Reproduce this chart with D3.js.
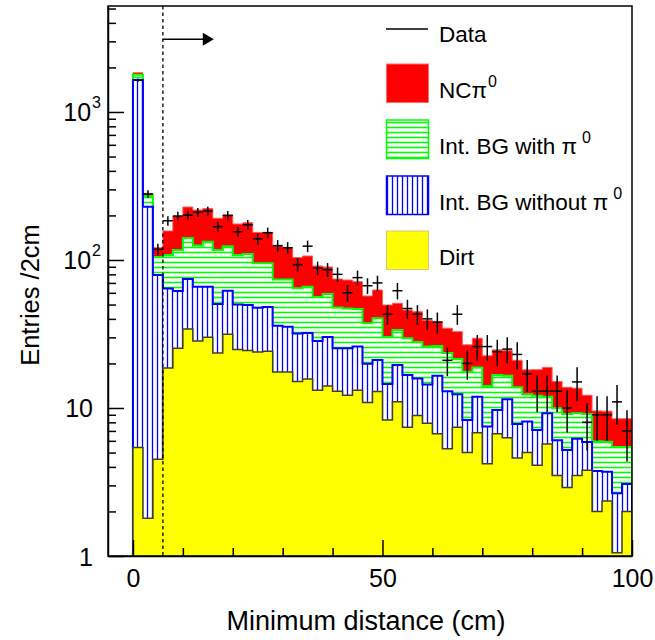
<!DOCTYPE html>
<html><head><meta charset="utf-8">
<script src="https://cdn.jsdelivr.net/npm/d3@7"></script>
<style>body{margin:0;background:#fff} svg{display:block;font-family:"Liberation Sans",Arial,Helvetica,sans-serif}</style>
</head><body><svg id="c" width="655" height="640"></svg>
<script>
// ---- data (Entries / 2cm, bins of 2 cm from 0 to 100) ----
const binLow = [0,2,4,6,8,10,12,14,16,18,20,22,24,26,28,30,32,34,36,38,40,42,44,46,48,50,52,54,56,58,60,62,64,66,68,70,72,74,76,78,80,82,84,86,88,90,92,94,96,98];
const binWidth = 2;
const dirt = [5.4,1.8,4.5,18.6,25.3,34.2,28.4,30.0,23.5,31.5,24.8,24.5,23.9,24.2,17.5,17.5,15.1,15.7,13.2,14.1,13.0,12.2,13.2,10.9,12.9,8.3,11.0,7.4,8.9,7.9,6.7,5.3,7.4,5.0,6.8,4.2,6.7,6.3,4.6,5.0,4.1,5.7,3.5,2.9,3.5,3.8,2.0,2.35,1.05,2.0];
const intNoPi0 = [1639,227,74.7,45.6,36.4,40.2,37.6,36.0,26.9,30.5,25.2,25.2,23.7,23.9,18.5,17.9,16.8,16.4,15.2,16.1,12.3,13.1,12.8,9.0,8.2,6.2,8.5,9.3,6.9,6.5,9.8,7.7,5.0,3.3,5.1,3.3,3.0,5.15,3.2,3.1,3.0,3.5,2.55,2.3,2.7,2.1,1.75,1.36,1.6,1.06];
const intPi0 = [142,41.6,25.6,43.8,55.1,66.4,59.3,67.0,66.4,61.8,58.0,60.1,47.4,46.9,37.8,38.4,32.5,33.9,27.8,28.7,22.5,21.7,20.7,17.4,19.3,15.7,14.2,12.9,12.1,11.6,9.7,10.5,9.0,9.3,6.9,6.6,7.0,5.05,6.0,4.3,5.0,2.7,3.9,3.9,3.0,3.2,2.2,2.2,2.8,2.4];
const ncPi0 = [57,11.4,16.2,49.0,81.2,87.2,92.4,89.8,74.5,77.6,67.0,68.8,58.4,58.4,50.5,47.7,39.5,40.4,34.9,30.8,26.6,26.2,24.7,19.8,22.3,19.4,17.3,16.3,16.8,13.0,12.1,11.1,11.4,9.1,10.8,8.4,8.0,7.9,7.2,5.7,6.05,6.9,5.15,4.7,4.4,3.1,3.6,3.6,3.0,3.0];
const dataCounts = [1640,279,118,184,198,201,210,214,168,200,155,173,139,153,125,121,93,124,88,86,80,60,76,67,70,43,62,47,43,40,38,21,43,20,26,26,24,25,23,17,13,13,13,10,15,8,9,9,11,7];

const cutValue = 6;        // dashed selection cut (cm)
const arrowEnd = 16.2;     // arrow tip (cm)
const arrowLevel = 3100;   // arrow height (entries)

const yTicks = [1,10,100,1000];
const yTickBase = ["1","10","10","10"];
const yTickSup = ["","","2","3"];
const yMinor = [2,3,4,5,6,7,8,9,20,30,40,50,60,70,80,90,200,300,400,500,600,700,800,900,2000,3000,4000,5000];
const xTicks = [0,50,100];
const xMinor = [10,20,30,40,60,70,80,90];

const xTitle = "Minimum distance (cm)";
const yTitle = "Entries /2cm";

// ---- scales ----
const x = d3.scaleLinear().domain([-5,100]).range([108,632]);
const y = d3.scaleLog().domain([1,5200]).range([556,6]);

const svg = d3.select("#c");
const defs = svg.append("defs");
defs.append("clipPath").attr("id","plotclip").append("rect")
  .attr("x",108).attr("y",6).attr("width",524).attr("height",550);

const pg = defs.append("pattern").attr("id","hatchH").attr("patternUnits","userSpaceOnUse")
  .attr("width",10).attr("height",5);
pg.append("rect").attr("width",10).attr("height",5).attr("fill","#fff");
pg.append("line").attr("x1",0).attr("x2",10).attr("y1",2.5).attr("y2",2.5)
  .attr("stroke","#00ff00").attr("stroke-width",1.6);
const pb = defs.append("pattern").attr("id","hatchV").attr("patternUnits","userSpaceOnUse")
  .attr("width",5).attr("height",10);
pb.append("rect").attr("width",5).attr("height",10).attr("fill","#fff");
pb.append("line").attr("x1",2.5).attr("x2",2.5).attr("y1",0).attr("y2",10)
  .attr("stroke","#0000ff").attr("stroke-width",1.3);

// ---- stack ----
const rows = binLow.map((b,i)=>({b, dirt:dirt[i], noPi0:intNoPi0[i], pi0:intPi0[i], nc:ncPi0[i]}));
const keys = ["dirt","noPi0","pi0","nc"];
const stacked = d3.stack().keys(keys)(rows);
const styles = {
  nc:    {fill:"#ff0000", pattern:null, stroke:"#ff5a5a", sw:1},
  pi0:   {fill:"#fff", pattern:"url(#hatchH)", stroke:"#00ff00", sw:2},
  noPi0: {fill:"#fff", pattern:"url(#hatchV)", stroke:"#0000ff", sw:2},
  dirt:  {fill:"#ffff00", pattern:null, stroke:"#404020", sw:1.5}
};

const plot = svg.append("g").attr("clip-path","url(#plotclip)");
const area = d3.area().curve(d3.curveStepAfter).x(d=>x(d.x)).y0(y(1)).y1(d=>y(d.v));
const line = d3.line().curve(d3.curveStepAfter).x(d=>x(d.x)).y(d=>y(d.v));

// draw cumulative histograms from the top layer downwards (THStack style)
for (let k = keys.length-1; k >= 0; k--) {
  const s = stacked[k];
  const pts = s.map((d,i)=>({x:binLow[i], v:d[1]}));
  pts.push({x:binLow[binLow.length-1]+binWidth, v:s[s.length-1][1]});
  const st = styles[keys[k]];
  plot.append("path").attr("d",area(pts)).attr("fill",st.fill);
  if (st.pattern) plot.append("path").attr("d",area(pts)).attr("fill",st.pattern);
  const outline = [{x:binLow[0], v:1}].concat(pts, [{x:pts[pts.length-1].x, v:1}]);
  plot.append("path").attr("d",line(outline)).attr("fill","none")
    .attr("stroke",st.stroke).attr("stroke-width",st.sw);
}

// dashed cut line
plot.append("line").attr("x1",x(cutValue)).attr("x2",x(cutValue))
  .attr("y1",y.range()[1]).attr("y2",y.range()[0])
  .attr("stroke","#000").attr("stroke-width",1.3).attr("stroke-dasharray","3.5,3");

// arrow
const ay = y(arrowLevel);
svg.append("line").attr("x1",x(cutValue)).attr("x2",x(arrowEnd)-10).attr("y1",ay).attr("y2",ay)
  .attr("stroke","#000").attr("stroke-width",1.5);
svg.append("path").attr("d",`M${x(arrowEnd)},${ay} L${x(arrowEnd)-11},${ay-6.5} L${x(arrowEnd)-11},${ay+6.5} Z`)
  .attr("fill","#000");

// data points
const dg = plot.append("g").attr("stroke","#000").attr("stroke-width",1.5);
dataCounts.forEach((n,i)=>{
  const e = Math.sqrt(n);
  const xc = x(binLow[i]+binWidth/2);
  dg.append("line").attr("x1",x(binLow[i])).attr("x2",x(binLow[i]+binWidth)).attr("y1",y(n)).attr("y2",y(n));
  dg.append("line").attr("x1",xc).attr("x2",xc).attr("y1",y(Math.max(n-e,1))).attr("y2",y(n+e));
});

// ---- axes ----
const fontTick = 25;
const yAxis = d3.axisLeft(y).tickValues(yTicks).tickSizeInner(-16).tickSizeOuter(0).tickPadding(15).tickFormat(()=>"");
const yAxisG = svg.append("g").attr("transform","translate(108,0)").call(yAxis);
const yMinorG = svg.append("g").attr("transform","translate(108,0)")
  .call(d3.axisLeft(y).tickValues(yMinor).tickSizeInner(-8).tickSizeOuter(0).tickFormat(()=>""));
yMinorG.select(".domain").remove();
const xAxis = d3.axisBottom(x).tickValues(xTicks).tickSizeInner(-16).tickSizeOuter(0).tickPadding(13).tickFormat(d3.format("d"));
const xAxisG = svg.append("g").attr("transform","translate(0,556)").call(xAxis);
const xMinorG = svg.append("g").attr("transform","translate(0,556)")
  .call(d3.axisBottom(x).tickValues(xMinor).tickSizeInner(-8).tickSizeOuter(0).tickFormat(()=>""));
xMinorG.select(".domain").remove();
svg.selectAll(".tick line").attr("stroke","#000").attr("stroke-width",1.5);
svg.selectAll(".domain").attr("stroke","#000").attr("stroke-width",1.5);
xAxisG.selectAll("text").attr("font-size",fontTick).attr("font-family","Liberation Sans, Arial, sans-serif").attr("fill","#000");

// y tick labels with superscripts
yAxisG.selectAll(".tick").each(function(d,i){
  const t = d3.select(this).select("text");
  t.attr("font-size",fontTick).attr("font-family","Liberation Sans, Arial, sans-serif").attr("fill","#000")
    .attr("text-anchor","end").attr("x", yTickSup[i] ? -7 : -15).attr("dy","0.36em");
  t.text(null);
  t.append("tspan").text(yTickBase[i]);
  if (yTickSup[i]) t.append("tspan").attr("font-size",16).attr("dy","-0.85em").attr("dx",1).text(yTickSup[i]);
});

// frame
svg.append("rect").attr("x",108).attr("y",6).attr("width",524).attr("height",550)
  .attr("fill","none").attr("stroke","#000").attr("stroke-width",1.5);

// titles
svg.append("text").attr("x",366).attr("y",630).attr("text-anchor","middle")
  .attr("font-size",27).attr("fill","#000").text(xTitle);
svg.append("text").attr("transform","translate(39,295) rotate(-90)").attr("text-anchor","middle")
  .attr("font-size",25.5).attr("fill","#000").text(yTitle);

// ---- legend ----
const lg = svg.append("g").attr("font-size",22.5).attr("fill","#000");
const legendItems = [
  {label:"Data", sup:"", kind:"line"},
  {label:"NC\u03c0", sup:"0", kind:"nc", supDx:1},
  {label:"Int. BG with \u03c0", sup:"0", kind:"pi0", supDx:5},
  {label:"Int. BG without \u03c0", sup:"0", kind:"noPi0", supDx:5},
  {label:"Dirt", sup:"", kind:"dirt"}
];
const legTop = [29, 64, 120, 176, 231];
legendItems.forEach((it,i)=>{
  const top = legTop[i];
  let baseY;
  if (it.kind==="line") {
    lg.append("line").attr("x1",386).attr("x2",428).attr("y1",top).attr("y2",top)
      .attr("stroke","#000").attr("stroke-width",1.5);
    baseY = top + 13;
  } else {
    const st = styles[it.kind];
    const boxStroke = it.kind==="dirt" ? "#d4c97a" : (it.kind==="nc" ? "#ff6a6a" : st.stroke);
    lg.append("rect").attr("x",386.5).attr("y",top).attr("width",42).attr("height",38.5)
      .attr("fill", st.pattern ? st.pattern : st.fill)
      .attr("stroke",boxStroke).attr("stroke-width", it.kind==="pi0"||it.kind==="noPi0" ? 1.5 : 1);
    baseY = top + 34;
  }
  const t = lg.append("text").attr("x",439).attr("y",baseY);
  t.append("tspan").text(it.label);
  if (it.sup) t.append("tspan").attr("font-size",16).attr("dx",it.supDx).attr("dy",-11).text(it.sup);
});
</script></body></html>
